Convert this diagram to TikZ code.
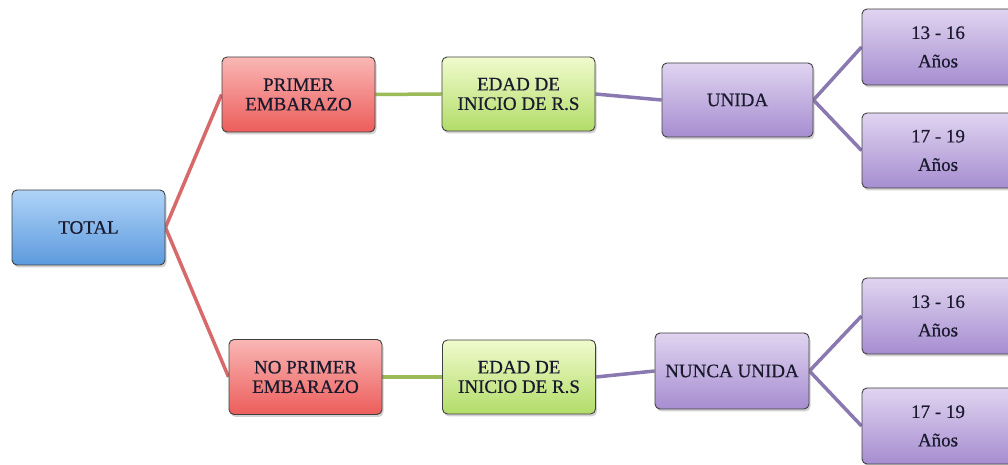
\documentclass[tikz,border=0pt]{standalone}
\usepackage{fontspec}
\setmainfont{Liberation Serif}[FakeBold=0.5]
\usetikzlibrary{shadows,backgrounds}
\definecolor{bluetop}{HTML}{B0D3F7}
\definecolor{bluebot}{HTML}{5C9ADE}
\definecolor{redtop}{HTML}{F9B7B5}
\definecolor{redbot}{HTML}{EC5D5B}
\definecolor{greentop}{HTML}{F0FBCD}
\definecolor{greenbot}{HTML}{B2DC68}
\definecolor{purptop}{HTML}{E0D4F0}
\definecolor{purpbot}{HTML}{A68DD0}
\definecolor{redline}{HTML}{D7696A}
\definecolor{greenline}{HTML}{9BBB59}
\definecolor{purpline}{HTML}{8A78B0}
\definecolor{txt}{HTML}{1A1A2E}
\tikzset{
  box/.style={rounded corners=5pt, draw=black!75, line width=0.9pt,
    minimum width=153pt, minimum height=75pt, align=center,
    text=txt, font=\fontsize{19}{19.5}\selectfont, inner sep=2pt,
    drop shadow={opacity=0.35, shadow xshift=1.5pt, shadow yshift=-2.5pt}},
  bluebox/.style={box, top color=bluetop, bottom color=bluebot},
  redbox/.style={box, top color=redtop, bottom color=redbot},
  greenbox/.style={box, top color=greentop, bottom color=greenbot},
  purpbox/.style={box, top color=purptop, bottom color=purpbot},
  link/.style={line width=3.5pt},
}
\begin{document}
\begin{tikzpicture}[x=1pt,y=1pt]
\useasboundingbox (0,0) rectangle (1008,465);
\clip (0,0) rectangle (1008,465);
\node[bluebox] (total) at (88.5,237.5) {TOTAL};
\node[redbox] (pe) at (298.5,370.5) {PRIMER\\EMBARAZO};
\node[redbox] (npe) at (305.5,88) {NO PRIMER\\EMBARAZO};
\node[greenbox, minimum height=74pt] (ed1) at (518.5,371) {EDAD DE\\INICIO DE R.S};
\node[greenbox, minimum height=74pt] (ed2) at (519,88) {EDAD DE\\INICIO DE R.S};
\node[purpbox, minimum width=151pt, minimum height=74pt] (un) at (737.5,365) {UNIDA};
\node[purpbox, minimum width=154pt, minimum height=76pt] (nu) at (732,94) {NUNCA UNIDA};
\node[purpbox, minimum width=152pt, minimum height=76pt] (a1) at (938,418) {13 - 16\\[9pt]Años};
\node[purpbox, minimum width=152pt, minimum height=75pt] (a2) at (938,314.5) {17 - 19\\[9pt]Años};
\node[purpbox, minimum width=152pt, minimum height=76pt] (a3) at (938,149) {13 - 16\\[9pt]Años};
\node[purpbox, minimum width=152pt, minimum height=76pt] (a4) at (938,39) {17 - 19\\[9pt]Años};
\begin{pgfonlayer}{background}
\fill[white] (0,0) rectangle (1008,465);
\draw[link, redline] (total.east) -- (pe.west);
\draw[link, redline] (total.east) -- (npe.west);
\draw[link, greenline] (pe.east) -- (ed1.west);
\draw[link, greenline] (npe.east) -- (ed2.west);
\draw[link, purpline] (ed1.east) -- (un.west);
\draw[link, purpline] (ed2.east) -- (nu.west);
\draw[link, purpline] (un.east) -- (a1.west);
\draw[link, purpline] (un.east) -- (a2.west);
\draw[link, purpline] (nu.east) -- (a3.west);
\draw[link, purpline] (nu.east) -- (a4.west);
\end{pgfonlayer}
\end{tikzpicture}
\end{document}
